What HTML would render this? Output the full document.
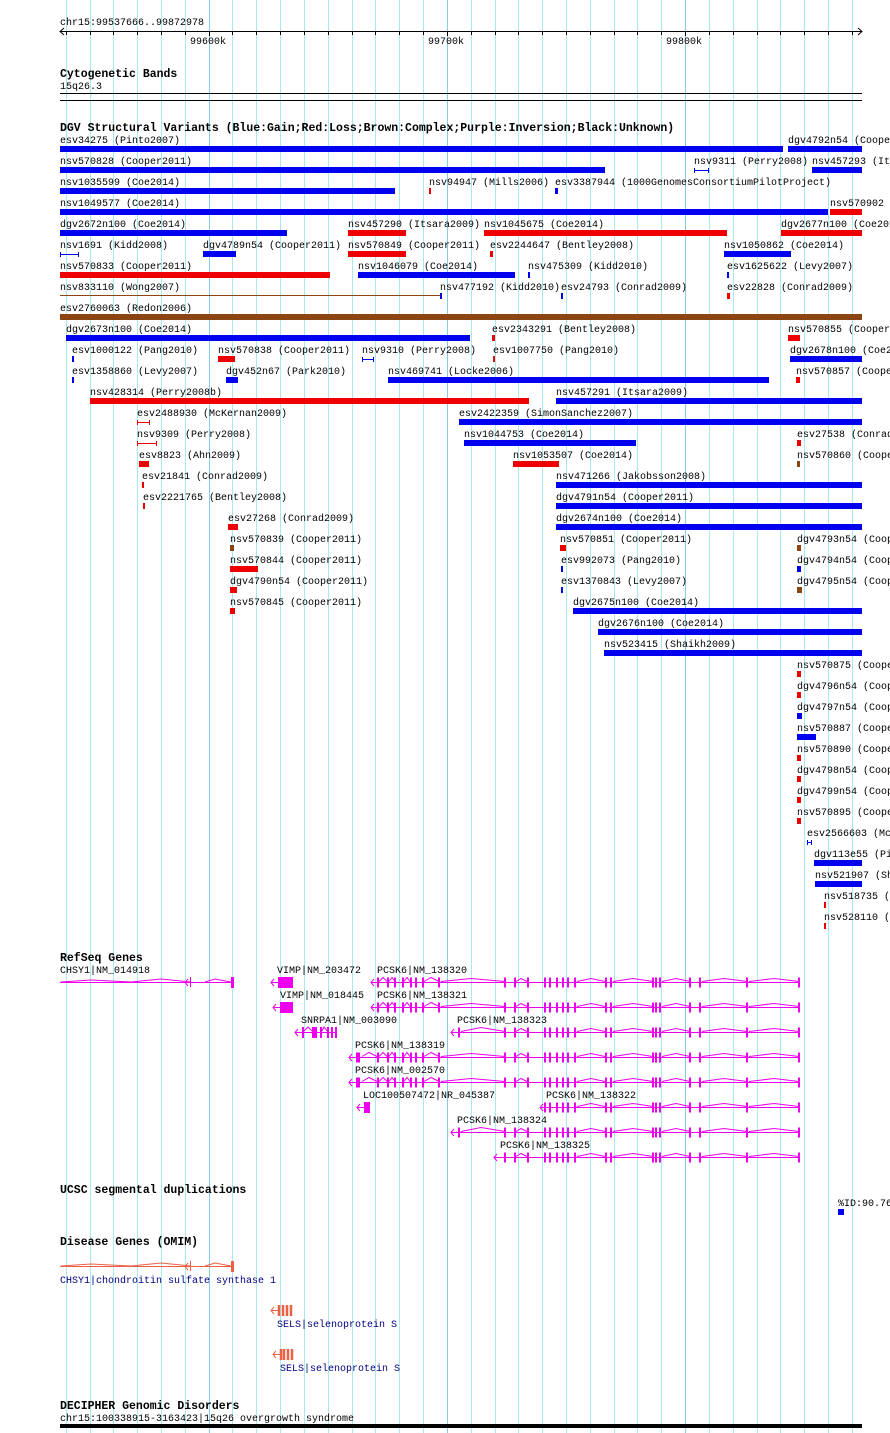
<!DOCTYPE html>
<html><head><meta charset="utf-8"><style>
html,body{margin:0;padding:0;background:#fff;}
svg{display:block;}
text{font-family:"Liberation Mono",monospace;font-size:10px;fill:#000;}
.t{font-weight:bold;font-size:11.5px;}
.b{fill:#0000ee;}.r{fill:#ee0000;}.n{fill:#8b4513;}.m{fill:#ee00ee;}.o{fill:#ee6044;}
.ex{stroke:#ee00ee;stroke-width:2;fill:none;}
.in{stroke:#ee00ee;stroke-width:1;fill:none;}
</style></head><body>
<svg width="890" height="1433" viewBox="0 0 890 1433" xmlns="http://www.w3.org/2000/svg">
<g stroke="#a8e8f0" stroke-width="1">
<line x1="66.5" y1="0" x2="66.5" y2="1433"/><line x1="90.5" y1="0" x2="90.5" y2="1433"/><line x1="113.5" y1="0" x2="113.5" y2="1433"/><line x1="137.5" y1="0" x2="137.5" y2="1433"/><line x1="161.5" y1="0" x2="161.5" y2="1433"/><line x1="185.5" y1="0" x2="185.5" y2="1433"/><line x1="232.5" y1="0" x2="232.5" y2="1433"/><line x1="256.5" y1="0" x2="256.5" y2="1433"/><line x1="280.5" y1="0" x2="280.5" y2="1433"/><line x1="304.5" y1="0" x2="304.5" y2="1433"/><line x1="328.5" y1="0" x2="328.5" y2="1433"/><line x1="352.5" y1="0" x2="352.5" y2="1433"/><line x1="375.5" y1="0" x2="375.5" y2="1433"/><line x1="399.5" y1="0" x2="399.5" y2="1433"/><line x1="423.5" y1="0" x2="423.5" y2="1433"/><line x1="471.5" y1="0" x2="471.5" y2="1433"/><line x1="495.5" y1="0" x2="495.5" y2="1433"/><line x1="518.5" y1="0" x2="518.5" y2="1433"/><line x1="542.5" y1="0" x2="542.5" y2="1433"/><line x1="566.5" y1="0" x2="566.5" y2="1433"/><line x1="590.5" y1="0" x2="590.5" y2="1433"/><line x1="614.5" y1="0" x2="614.5" y2="1433"/><line x1="637.5" y1="0" x2="637.5" y2="1433"/><line x1="661.5" y1="0" x2="661.5" y2="1433"/><line x1="709.5" y1="0" x2="709.5" y2="1433"/><line x1="733.5" y1="0" x2="733.5" y2="1433"/><line x1="757.5" y1="0" x2="757.5" y2="1433"/><line x1="780.5" y1="0" x2="780.5" y2="1433"/><line x1="804.5" y1="0" x2="804.5" y2="1433"/><line x1="828.5" y1="0" x2="828.5" y2="1433"/><line x1="852.5" y1="0" x2="852.5" y2="1433"/>
</g>
<g stroke="#88c8e8" stroke-width="1">
<line x1="209.5" y1="0" x2="209.5" y2="1433"/><line x1="447.5" y1="0" x2="447.5" y2="1433"/><line x1="685.5" y1="0" x2="685.5" y2="1433"/>
</g>
<!-- ruler -->
<text x="60" y="25">chr15:99537666..99872978</text>
<g stroke="#000" stroke-width="1">
<line x1="60" y1="31.5" x2="862" y2="31.5"/>
<polyline points="64,28 60,31.5 64,35" fill="none"/><polyline points="858,28 862,31.5 858,35" fill="none"/>
<path d="M66.5 31v4M90.5 31v4M113.5 31v4M137.5 31v4M161.5 31v4M185.5 31v4M209.5 31v5M232.5 31v4M256.5 31v4M280.5 31v4M304.5 31v4M328.5 31v4M352.5 31v4M375.5 31v4M399.5 31v4M423.5 31v4M447.5 31v5M471.5 31v4M495.5 31v4M518.5 31v4M542.5 31v4M566.5 31v4M590.5 31v4M614.5 31v4M637.5 31v4M661.5 31v4M685.5 31v5M709.5 31v4M733.5 31v4M757.5 31v4M780.5 31v4M804.5 31v4M828.5 31v4M852.5 31v4"/>
</g>
<text x="190" y="44">99600k</text><text x="428" y="44">99700k</text><text x="666" y="44">99800k</text>
<!-- cyto -->
<text class="t" x="60" y="77">Cytogenetic Bands</text>
<text x="60" y="89">15q26.3</text>
<rect x="60" y="93" width="802" height="1"/><rect x="60" y="100" width="802" height="1"/>
<!-- DGV -->
<text class="t" x="60" y="131">DGV Structural Variants (Blue:Gain;Red:Loss;Brown:Complex;Purple:Inversion;Black:Unknown)</text>
<g>
<text x="60" y="143">esv34275 (Pinto2007)</text><rect class="b" x="60" y="146" width="723" height="6"/>
<text x="788" y="143">dgv4792n54 (Cooper2011)</text><rect class="b" x="788" y="146" width="74" height="6"/>
<text x="60" y="164">nsv570828 (Cooper2011)</text><rect class="b" x="60" y="167" width="545" height="6"/>
<text x="694" y="164">nsv9311 (Perry2008)</text><path d="M694.5 168v5M708.5 168v5M694 170.5h15" stroke="#0000ee"/>
<text x="812" y="164">nsv457293 (Itsara2009)</text><rect class="b" x="812" y="167" width="50" height="6"/>
<text x="60" y="185">nsv1035599 (Coe2014)</text><rect class="b" x="60" y="188" width="335" height="6"/>
<text x="429" y="185">nsv94947 (Mills2006)</text><rect class="r" x="429" y="188" width="2" height="6"/>
<text x="555" y="185">esv3387944 (1000GenomesConsortiumPilotProject)</text><rect class="b" x="555" y="188" width="3" height="6"/>
<text x="60" y="206">nsv1049577 (Coe2014)</text><rect class="b" x="60" y="209" width="768" height="6"/>
<text x="830" y="206">nsv570902 (Cooper2011)</text><rect class="r" x="830" y="209" width="32" height="6"/>
<text x="60" y="227">dgv2672n100 (Coe2014)</text><rect class="b" x="60" y="230" width="227" height="6"/>
<text x="348" y="227">nsv457290 (Itsara2009)</text><rect class="r" x="348" y="230" width="58" height="6"/>
<text x="484" y="227">nsv1045675 (Coe2014)</text><rect class="r" x="484" y="230" width="243" height="6"/>
<text x="781" y="227">dgv2677n100 (Coe2014)</text><rect class="r" x="781" y="230" width="81" height="6"/>
<text x="60" y="248">nsv1691 (Kidd2008)</text><path d="M60.5 252v5M78.5 252v5M60 254.5h19" stroke="#0000ee"/>
<text x="203" y="248">dgv4789n54 (Cooper2011)</text><rect class="b" x="203" y="251" width="33" height="6"/>
<text x="348" y="248">nsv570849 (Cooper2011)</text><rect class="r" x="348" y="251" width="58" height="6"/>
<text x="490" y="248">esv2244647 (Bentley2008)</text><rect class="r" x="490" y="251" width="3" height="6"/>
<text x="724" y="248">nsv1050862 (Coe2014)</text><rect class="b" x="724" y="251" width="67" height="6"/>
<text x="60" y="269">nsv570833 (Cooper2011)</text><rect class="r" x="60" y="272" width="270" height="6"/>
<text x="358" y="269">nsv1046079 (Coe2014)</text><rect class="b" x="358" y="272" width="157" height="6"/>
<text x="528" y="269">nsv475309 (Kidd2010)</text><rect class="b" x="528" y="272" width="2" height="6"/>
<text x="727" y="269">esv1625622 (Levy2007)</text><rect class="b" x="727" y="272" width="2" height="6"/>
<text x="60" y="290">nsv833110 (Wong2007)</text><rect class="n" x="60" y="295" width="380" height="1"/>
<text x="440" y="290">nsv477192 (Kidd2010)</text><rect class="b" x="440" y="293" width="2" height="6"/>
<text x="561" y="290">esv24793 (Conrad2009)</text><rect class="b" x="561" y="293" width="2" height="6"/>
<text x="727" y="290">esv22828 (Conrad2009)</text><rect class="r" x="727" y="293" width="3" height="6"/>
<text x="60" y="311">esv2760063 (Redon2006)</text><rect class="n" x="60" y="314" width="802" height="6"/>
<text x="66" y="332">dgv2673n100 (Coe2014)</text><rect class="b" x="66" y="335" width="404" height="6"/>
<text x="492" y="332">esv2343291 (Bentley2008)</text><rect class="r" x="492" y="335" width="3" height="6"/>
<text x="788" y="332">nsv570855 (Cooper2011)</text><rect class="r" x="788" y="335" width="12" height="6"/>
<text x="72" y="353">esv1000122 (Pang2010)</text><rect class="b" x="72" y="356" width="2" height="6"/>
<text x="218" y="353">nsv570838 (Cooper2011)</text><rect class="r" x="218" y="356" width="17" height="6"/>
<text x="362" y="353">nsv9310 (Perry2008)</text><path d="M362.5 357v5M373.5 357v5M362 359.5h12" stroke="#0000ee"/>
<text x="493" y="353">esv1007750 (Pang2010)</text><rect class="r" x="493" y="356" width="2" height="6"/>
<text x="790" y="353">dgv2678n100 (Coe2014)</text><rect class="b" x="790" y="356" width="72" height="6"/>
<text x="72" y="374">esv1358860 (Levy2007)</text><rect class="b" x="72" y="377" width="2" height="6"/>
<text x="226" y="374">dgv452n67 (Park2010)</text><rect class="b" x="226" y="377" width="12" height="6"/>
<text x="388" y="374">nsv469741 (Locke2006)</text><rect class="b" x="388" y="377" width="381" height="6"/>
<text x="796" y="374">nsv570857 (Cooper2011)</text><rect class="r" x="796" y="377" width="4" height="6"/>
<text x="90" y="395">nsv428314 (Perry2008b)</text><rect class="r" x="90" y="398" width="439" height="6"/>
<text x="556" y="395">nsv457291 (Itsara2009)</text><rect class="b" x="556" y="398" width="306" height="6"/>
<text x="137" y="416">esv2488930 (McKernan2009)</text><path d="M137.5 420v5M149.5 420v5M137 422.5h13" stroke="#ee0000"/>
<text x="459" y="416">esv2422359 (SimonSanchez2007)</text><rect class="b" x="459" y="419" width="403" height="6"/>
<text x="137" y="437">nsv9309 (Perry2008)</text><path d="M137.5 441v5M156.5 441v5M137 443.5h20" stroke="#ee0000"/>
<text x="464" y="437">nsv1044753 (Coe2014)</text><rect class="b" x="464" y="440" width="172" height="6"/>
<text x="797" y="437">esv27538 (Conrad2009)</text><rect class="r" x="797" y="440" width="4" height="6"/>
<text x="139" y="458">esv8823 (Ahn2009)</text><rect class="r" x="139" y="461" width="10" height="6"/>
<text x="513" y="458">nsv1053507 (Coe2014)</text><rect class="r" x="513" y="461" width="46" height="6"/>
<text x="797" y="458">nsv570860 (Cooper2011)</text><rect class="n" x="797" y="461" width="3" height="6"/>
<text x="142" y="479">esv21841 (Conrad2009)</text><rect class="r" x="142" y="482" width="2" height="6"/>
<text x="556" y="479">nsv471266 (Jakobsson2008)</text><rect class="b" x="556" y="482" width="306" height="6"/>
<text x="143" y="500">esv2221765 (Bentley2008)</text><rect class="r" x="143" y="503" width="2" height="6"/>
<text x="556" y="500">dgv4791n54 (Cooper2011)</text><rect class="b" x="556" y="503" width="306" height="6"/>
<text x="228" y="521">esv27268 (Conrad2009)</text><rect class="r" x="228" y="524" width="10" height="6"/>
<text x="556" y="521">dgv2674n100 (Coe2014)</text><rect class="b" x="556" y="524" width="306" height="6"/>
<text x="230" y="542">nsv570839 (Cooper2011)</text><rect class="n" x="230" y="545" width="4" height="6"/>
<text x="560" y="542">nsv570851 (Cooper2011)</text><rect class="r" x="560" y="545" width="6" height="6"/>
<text x="797" y="542">dgv4793n54 (Cooper2011)</text><rect class="n" x="797" y="545" width="4" height="6"/>
<text x="230" y="563">nsv570844 (Cooper2011)</text><rect class="r" x="230" y="566" width="28" height="6"/>
<text x="561" y="563">esv992073 (Pang2010)</text><rect class="b" x="561" y="566" width="2" height="6"/>
<text x="797" y="563">dgv4794n54 (Cooper2011)</text><rect class="b" x="797" y="566" width="4" height="6"/>
<text x="230" y="584">dgv4790n54 (Cooper2011)</text><rect class="r" x="230" y="587" width="7" height="6"/>
<text x="561" y="584">esv1370843 (Levy2007)</text><rect class="b" x="561" y="587" width="2" height="6"/>
<text x="797" y="584">dgv4795n54 (Cooper2011)</text><rect class="n" x="797" y="587" width="5" height="6"/>
<text x="230" y="605">nsv570845 (Cooper2011)</text><rect class="r" x="230" y="608" width="5" height="6"/>
<text x="573" y="605">dgv2675n100 (Coe2014)</text><rect class="b" x="573" y="608" width="289" height="6"/>
<text x="598" y="626">dgv2676n100 (Coe2014)</text><rect class="b" x="598" y="629" width="264" height="6"/>
<text x="604" y="647">nsv523415 (Shaikh2009)</text><rect class="b" x="604" y="650" width="258" height="6"/>
<text x="797" y="668">nsv570875 (Cooper2011)</text><rect class="r" x="797" y="671" width="4" height="6"/>
<text x="797" y="689">dgv4796n54 (Cooper2011)</text><rect class="r" x="797" y="692" width="4" height="6"/>
<text x="797" y="710">dgv4797n54 (Cooper2011)</text><rect class="b" x="797" y="713" width="5" height="6"/>
<text x="797" y="731">nsv570887 (Cooper2011)</text><rect class="b" x="797" y="734" width="19" height="6"/>
<text x="797" y="752">nsv570890 (Cooper2011)</text><rect class="r" x="797" y="755" width="4" height="6"/>
<text x="797" y="773">dgv4798n54 (Cooper2011)</text><rect class="r" x="797" y="776" width="4" height="6"/>
<text x="797" y="794">dgv4799n54 (Cooper2011)</text><rect class="r" x="797" y="797" width="4" height="6"/>
<text x="797" y="815">nsv570895 (Cooper2011)</text><rect class="r" x="797" y="818" width="4" height="6"/>
<text x="807" y="836">esv2566603 (McKernan2009)</text><path d="M807.5 840v5M811.5 840v5M807 842.5h5" stroke="#0000ee"/>
<text x="814" y="857">dgv113e55 (Pinto2007)</text><rect class="b" x="814" y="860" width="48" height="6"/>
<text x="815" y="878">nsv521907 (Shaikh2009)</text><rect class="b" x="815" y="881" width="47" height="6"/>
<text x="824" y="899">nsv518735 (Shaikh2009)</text><rect class="r" x="824" y="902" width="2" height="6"/>
<text x="824" y="920">nsv528110 (Shaikh2009)</text><rect class="r" x="824" y="923" width="2" height="6"/>
</g>
<!-- RefSeq -->
<text class="t" x="60" y="961">RefSeq Genes</text>
<text x="60" y="973">CHSY1|NM_014918</text>
<path class="in" d="M60 982.5H233M61 982l30-2 40 2 30-3 30 3M205 982l10-3 16 3M188 979l-3 3.5 3 3.5"/>
<path d="M190.5 977v10" stroke="#ee00ee"/><rect class="m" x="231" y="977" width="3" height="11"/>
<text x="277" y="973">VIMP|NM_203472</text>
<path class="in" d="M271 982.5h8M274 979l-3 3.5 3 3.5"/><rect class="m" x="278" y="977" width="15" height="11"/>
<text x="377" y="973">PCSK6|NM_138320</text>
<text x="280" y="998">VIMP|NM_018445</text>
<path class="in" d="M273 1007.5h8M276 1004l-3 3.5 3 3.5"/><rect class="m" x="280" y="1002" width="13" height="11"/>
<text x="377" y="998">PCSK6|NM_138321</text>
<text x="301" y="1023">SNRPA1|NM_003090</text>
<path class="in" d="M295 1032.5h42M298 1029l-3 3.5 3 3.5M304 1031l4-4 4 4M322 1031l2-4 3 4"/>
<rect class="m" x="302" y="1027" width="2" height="11"/><rect class="m" x="312" y="1027" width="5" height="11"/><rect class="m" x="320" y="1027" width="2" height="11"/><rect class="m" x="327" y="1027" width="2" height="11"/><rect class="m" x="331" y="1027" width="2" height="11"/><rect class="m" x="335" y="1027" width="2" height="11"/>
<text x="457" y="1023">PCSK6|NM_138323</text>
<text x="355" y="1048">PCSK6|NM_138319</text>
<text x="355" y="1073">PCSK6|NM_002570</text>
<text x="363" y="1098">LOC100507472|NR_045387</text>
<path class="in" d="M357 1107.5h8M360 1104l-3 3.5 3 3.5"/><rect class="m" x="364" y="1102" width="6" height="11"/>
<text x="546" y="1098">PCSK6|NM_138322</text>
<text x="457" y="1123">PCSK6|NM_138324</text>
<text x="500" y="1148">PCSK6|NM_138325</text>

<!-- full PCSK6 rows: 982, 1007 (start 371); 1057, 1082 (start 349) -->
<g transform="translate(0,982.5)">
<path class="in" d="M371 0H800M374-3.5l-3 3.5 3 3.5M379-1l4-4 4 4M389-1l3-4 3 4M404-1l3-4 3 4M424-1l7-4 8 4M441-1l30-3 34 3M516-1l5-3 6 3M577-1l14-3 14 3M613-1l20-3 20 3M662-1l14-3 14 3M702-1l22-3 23 3M749-1l25-3 25 3"/>
<path class="ex" d="M378-5v10M388-5v10M395-5v10M403-5v10M411-5v10M416-5v10M423-5v10M439-5v10M505-5v10M515-5v10M528-5v10M545-5v10M550-5v10M557-5v10M563-5v10M568-5v10M575-5v10M606-5v10M611-5v10M653-5v10M656-5v10M660-5v10M690-5v10M700-5v10M747-5v10M799-5v10"/>
</g>
<g transform="translate(0,1007.5)">
<path class="in" d="M371 0H800M374-3.5l-3 3.5 3 3.5M379-1l4-4 4 4M389-1l3-4 3 4M404-1l3-4 3 4M424-1l7-4 8 4M441-1l30-3 34 3M516-1l5-3 6 3M577-1l14-3 14 3M613-1l20-3 20 3M662-1l14-3 14 3M702-1l22-3 23 3M749-1l25-3 25 3"/>
<path class="ex" d="M378-5v10M388-5v10M395-5v10M403-5v10M411-5v10M416-5v10M423-5v10M439-5v10M505-5v10M515-5v10M528-5v10M545-5v10M550-5v10M557-5v10M563-5v10M568-5v10M575-5v10M606-5v10M611-5v10M653-5v10M656-5v10M660-5v10M690-5v10M700-5v10M747-5v10M799-5v10"/>
</g>
<g transform="translate(0,1057.5)">
<path class="in" d="M349 0H800M352-3.5l-3 3.5 3 3.5M379-1l4-4 4 4M389-1l3-4 3 4M404-1l3-4 3 4M424-1l7-4 8 4M441-1l30-3 34 3M516-1l5-3 6 3M577-1l14-3 14 3M613-1l20-3 20 3M662-1l14-3 14 3M702-1l22-3 23 3M749-1l25-3 25 3M362-1l7-4 8 4"/>
<path class="ex" d="M357-5v10M359-5v10M378-5v10M388-5v10M395-5v10M403-5v10M411-5v10M416-5v10M423-5v10M439-5v10M505-5v10M515-5v10M528-5v10M545-5v10M550-5v10M557-5v10M563-5v10M568-5v10M575-5v10M606-5v10M611-5v10M653-5v10M656-5v10M660-5v10M690-5v10M700-5v10M747-5v10M799-5v10"/>
</g>
<g transform="translate(0,1082.5)">
<path class="in" d="M349 0H800M352-3.5l-3 3.5 3 3.5M379-1l4-4 4 4M389-1l3-4 3 4M404-1l3-4 3 4M424-1l7-4 8 4M441-1l30-3 34 3M516-1l5-3 6 3M577-1l14-3 14 3M613-1l20-3 20 3M662-1l14-3 14 3M702-1l22-3 23 3M749-1l25-3 25 3M362-1l7-4 8 4"/>
<path class="ex" d="M357-5v10M359-5v10M378-5v10M388-5v10M395-5v10M403-5v10M411-5v10M416-5v10M423-5v10M439-5v10M505-5v10M515-5v10M528-5v10M545-5v10M550-5v10M557-5v10M563-5v10M568-5v10M575-5v10M606-5v10M611-5v10M653-5v10M656-5v10M660-5v10M690-5v10M700-5v10M747-5v10M799-5v10"/>
</g>
<!-- partial rows: 1032 & 1132 (start 451), 1107 (start 540), 1157 (start 494) -->
<g transform="translate(0,1032.5)">
<path class="in" d="M451 0H800M454-3.5l-3 3.5 3 3.5M461-1l20-4 24 4M516-1l5-3 6 3M577-1l14-3 14 3M613-1l20-3 20 3M662-1l14-3 14 3M702-1l22-3 23 3M749-1l25-3 25 3"/>
<path class="ex" d="M459-5v10M505-5v10M515-5v10M528-5v10M545-5v10M550-5v10M557-5v10M563-5v10M568-5v10M575-5v10M606-5v10M611-5v10M653-5v10M656-5v10M660-5v10M690-5v10M700-5v10M747-5v10M799-5v10"/>
</g>
<g transform="translate(0,1132.5)">
<path class="in" d="M451 0H800M454-3.5l-3 3.5 3 3.5M461-1l20-4 24 4M516-1l5-3 6 3M577-1l14-3 14 3M613-1l20-3 20 3M662-1l14-3 14 3M702-1l22-3 23 3M749-1l25-3 25 3"/>
<path class="ex" d="M459-5v10M505-5v10M515-5v10M528-5v10M545-5v10M550-5v10M557-5v10M563-5v10M568-5v10M575-5v10M606-5v10M611-5v10M653-5v10M656-5v10M660-5v10M690-5v10M700-5v10M747-5v10M799-5v10"/>
</g>
<g transform="translate(0,1107.5)">
<path class="in" d="M540 0H800M543-3.5l-3 3.5 3 3.5M577-1l14-3 14 3M613-1l20-3 20 3M662-1l14-3 14 3M702-1l22-3 23 3M749-1l25-3 25 3"/>
<path class="ex" d="M545-5v10M550-5v10M557-5v10M563-5v10M568-5v10M575-5v10M606-5v10M611-5v10M653-5v10M656-5v10M660-5v10M690-5v10M700-5v10M747-5v10M799-5v10"/>
</g>
<g transform="translate(0,1157.5)">
<path class="in" d="M494 0H800M497-3.5l-3 3.5 3 3.5M516-1l5-3 6 3M577-1l14-3 14 3M613-1l20-3 20 3M662-1l14-3 14 3M702-1l22-3 23 3M749-1l25-3 25 3"/>
<path class="ex" d="M505-5v10M515-5v10M528-5v10M545-5v10M550-5v10M557-5v10M563-5v10M568-5v10M575-5v10M606-5v10M611-5v10M653-5v10M656-5v10M660-5v10M690-5v10M700-5v10M747-5v10M799-5v10"/>
</g>
<!-- seg dups -->
<text class="t" x="60" y="1193">UCSC segmental duplications</text>
<text x="838" y="1206">%ID:90.76</text>
<rect class="b" x="838" y="1209" width="6" height="6"/>
<!-- OMIM -->
<text class="t" x="60" y="1245">Disease Genes (OMIM)</text>
<path d="M60 1266.5H233M61 1266l30-2 40 2 30-3 30 3M205 1266l10-3 16 3M188 1263l-3 3.5 3 3.5" stroke="#ee6044" fill="none"/>
<path d="M190.5 1261v10" stroke="#ee6044"/><rect class="o" x="231" y="1261" width="3" height="11"/>
<text x="60" y="1283" style="fill:#000080">CHSY1|chondroitin sulfate synthase 1</text>
<path d="M271 1310.5h8M274 1307l-3 3.5 3 3.5" stroke="#ee6044" fill="none"/>
<path d="M279 1305v11M283 1305v11M287 1305v11M291 1305v11" stroke="#ee6044" stroke-width="2.5"/>
<text x="277" y="1327" style="fill:#000080">SELS|selenoprotein S</text>
<path d="M273 1354.5h8M276 1351l-3 3.5 3 3.5" stroke="#ee6044" fill="none"/>
<path d="M281 1349v11M284 1349v11M288 1349v11M292 1349v11" stroke="#ee6044" stroke-width="2.5"/>
<text x="280" y="1371" style="fill:#000080">SELS|selenoprotein S</text>
<!-- DECIPHER -->
<text class="t" x="60" y="1409">DECIPHER Genomic Disorders</text>
<text x="60" y="1421">chr15:100338915-3163423|15q26 overgrowth syndrome</text>
<rect x="60" y="1424" width="802" height="4"/>
</svg>
</body></html>
